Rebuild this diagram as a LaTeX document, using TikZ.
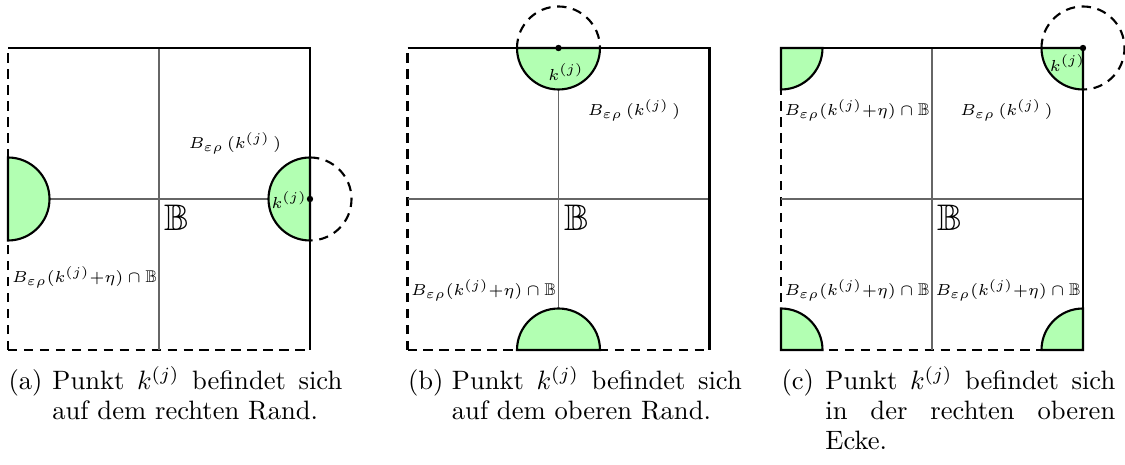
\documentclass[tikz,border=0pt]{standalone}
\usepackage{amsmath, amssymb}
\usepackage{xcolor}
\usetikzlibrary{positioning}

\begin{document}
\begin{tikzpicture}[
  x=0.376pt, y=0.376pt,
  rand/.style={thick},
  offen/.style={thick, dash pattern=on 3.5pt off 2.5pt},
  kugel/.style={thick, fill=green!30},
  gitter/.style={black!60, line width=0.4pt},
  lab/.style={font=\fontsize{6.4}{7.5}\selectfont, inner sep=1pt},
  menge/.style={font=\fontsize{13.9}{16}\selectfont, anchor=north west, inner sep=2pt},
  unterschrift/.style={anchor=base west, inner sep=0pt, font=\fontsize{10}{11.2}\selectfont}
]
\useasboundingbox (0,0) rectangle (1125,465);

% (a) rechter Rand
\begin{scope}[shift={(8,115)}]
\draw[offen] (0,0) -- (302,0);
\draw[offen] (0,0) -- (0,302);
\draw[gitter] (151,0) -- (151,302);
\draw[gitter] (41.5,151) -- (260.5,151);
\draw[kugel] (302,192.5) arc (90:270:41.5) -- cycle;
\draw[kugel] (0,192.5) arc (90:-90:41.5) -- cycle;
\draw[offen] (302,192.5) arc (90:-90:41.5);
\draw[rand] (0,302) -- (302,302) -- (302,0);
\fill (302,151) circle (1.2pt);
\node[lab, anchor=east] (ka) at (302,150) {$k^{(j)}$};
\node[lab] (ba1) at (227,207) {$B_{\varepsilon\rho}\,(k^{(j)}\,)$};
\node[lab] (ba2) at (76.5,73) {$B_{\varepsilon\rho}(k^{(j)}{+}\eta)\cap\mathbb{B}$};
\node[menge] (ma) at (151,151) {$\mathbb{B}$};
\end{scope}

% (b) oberer Rand
\begin{scope}[shift={(407.5,115)}]
\draw[offen] (0,0) -- (302,0);
\draw[offen] (0,0) -- (0,302);
\draw[gitter] (0,151) -- (302,151);
\draw[gitter] (151,41.5) -- (151,260.5);
\draw[kugel] (109.5,302) arc (180:360:41.5) -- cycle;
\draw[kugel] (109.5,0) arc (180:0:41.5) -- cycle;
\draw[offen] (109.5,302) arc (180:0:41.5);
\draw[rand] (0,302) -- (302,302) -- (302,0);
\fill (151,302) circle (1.2pt);
\node[lab] (kb) at (158.5,278) {$k^{(j)}$};
\node[lab] (bb1) at (226.5,240) {$B_{\varepsilon\rho}\,(k^{(j)}\,)$};
\node[lab] (bb2) at (76,60) {$B_{\varepsilon\rho}(k^{(j)}{+}\eta)\cap\mathbb{B}$};
\node[menge] (mb) at (151,151) {$\mathbb{B}$};
\end{scope}

% (c) rechte obere Ecke
\begin{scope}[shift={(781,115)}]
\draw[offen] (0,0) -- (302,0);
\draw[offen] (0,0) -- (0,302);
\draw[gitter] (151,0) -- (151,302);
\draw[gitter] (0,151) -- (302,151);
\draw[kugel] (260.5,302) arc (180:270:41.5) -- (302,302) -- cycle;
\draw[kugel] (41.5,302) arc (0:-90:41.5) -- (0,302) -- cycle;
\draw[kugel] (41.5,0) arc (0:90:41.5) -- (0,0) -- cycle;
\draw[kugel] (260.5,0) arc (180:90:41.5) -- (302,0) -- cycle;
\draw[offen] (260.5,302) arc (180:-90:41.5);
\draw[rand] (0,302) -- (302,302) -- (302,0);
\fill (302,302) circle (1.2pt);
\node[lab] (kc) at (286.5,287) {$k^{(j)}$};
\node[lab] (bc1) at (225.5,240) {$B_{\varepsilon\rho}\,(k^{(j)}\,)$};
\node[lab] (bc2) at (76,240) {$B_{\varepsilon\rho}(k^{(j)}{+}\eta)\cap\mathbb{B}$};
\node[lab] (bc3) at (76,60) {$B_{\varepsilon\rho}(k^{(j)}{+}\eta)\cap\mathbb{B}$};
\node[lab] (bc4) at (227,60) {$B_{\varepsilon\rho}(k^{(j)}{+}\eta)\cap\mathbb{B}$};
\node[menge] (mc) at (151,151) {$\mathbb{B}$};
\end{scope}

% Unterschriften
\node[unterschrift] (capa) at (8,75) {\makebox[16.5pt][l]{(a)}\parbox[t]{109pt}{\tolerance=10000
  Punkt $k^{(j)}$ befindet sich\linebreak auf dem rechten Rand.}};
\node[unterschrift] (capb) at (407.5,75) {\makebox[16.5pt][l]{(b)}\parbox[t]{109pt}{\tolerance=10000
  Punkt $k^{(j)}$ befindet sich\linebreak auf dem oberen Rand.}};
\node[unterschrift] (capc) at (781,75) {\makebox[16.5pt][l]{(c)}\parbox[t]{109pt}{\tolerance=10000
  Punkt $k^{(j)}$ befindet sich\linebreak in der rechten oberen\linebreak Ecke.}};
\end{tikzpicture}
\end{document}
